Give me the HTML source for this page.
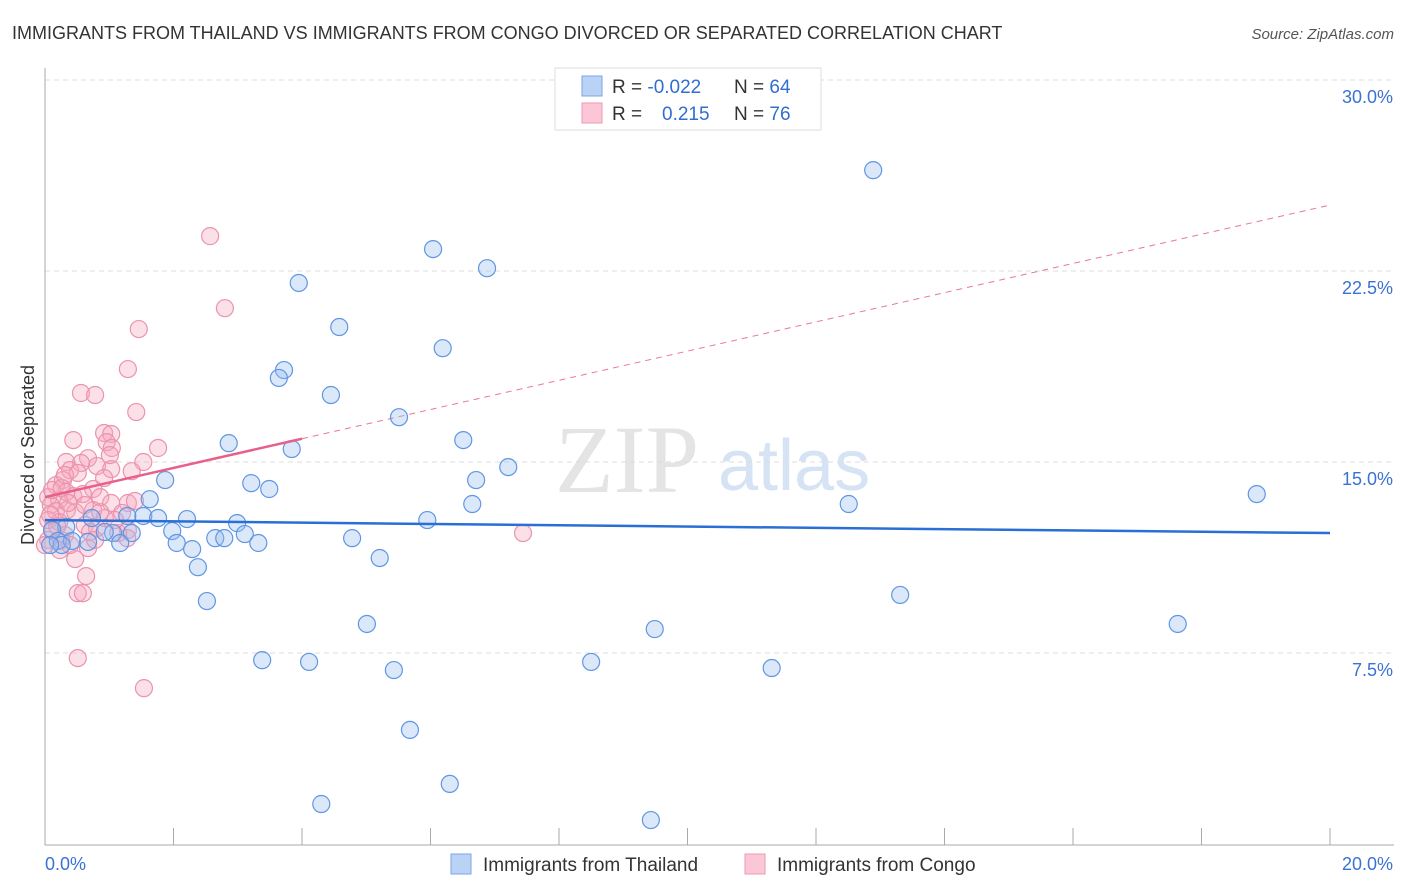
<!DOCTYPE html>
<html><head><meta charset="utf-8"><style>
body{margin:0;background:#fff;font-family:"Liberation Sans",sans-serif;}
svg{display:block}
</style></head><body>
<svg id="chart" width="1406" height="892" xmlns="http://www.w3.org/2000/svg" font-family="Liberation Sans, sans-serif">
<text x="12" y="39" font-size="18" fill="#333">IMMIGRANTS FROM THAILAND VS IMMIGRANTS FROM CONGO DIVORCED OR SEPARATED CORRELATION CHART</text>
<text x="1394" y="39" font-size="15" fill="#555" font-style="italic" text-anchor="end">Source: ZipAtlas.com</text>
<g>
<text x="555" y="492" font-size="96" font-family="Liberation Serif, serif" fill="#e4e4e4">ZIP</text>
<text x="718" y="490" font-size="72" fill="#d6e3f5">atlas</text>
</g>
<g id="grid"></g>
<g id="axes"></g>
<text transform="translate(34,455) rotate(-90)" font-size="18" fill="#333" text-anchor="middle">Divorced or Separated</text>
<g id="lines"></g>
<g id="pts"></g>
<g>
<rect x="555" y="68" width="266" height="62" fill="#fff" stroke="#ddd"/>
<rect x="582" y="76" width="20" height="20" fill="#b9d2f5" stroke="#7aa6e6"/>
<rect x="582" y="103" width="20" height="20" fill="#fbc6d5" stroke="#ee9ab4"/>
<text x="612" y="93" font-size="19" fill="#333">R = <tspan fill="#2f6fd0">-0.022</tspan></text>
<text x="734" y="93" font-size="19" fill="#333">N = <tspan fill="#2f6fd0">64</tspan></text>
<text x="612" y="120" font-size="19" fill="#333">R = </text>
<text x="662" y="120" font-size="19" fill="#2f6fd0">0.215</text>
<text x="734" y="120" font-size="19" fill="#333">N = <tspan fill="#2f6fd0">76</tspan></text>
</g>
<g>
<rect x="451" y="854" width="20" height="20" fill="#b9d2f5" stroke="#7aa6e6"/>
<text x="483" y="871" font-size="19" fill="#333">Immigrants from Thailand</text>
<rect x="745" y="854" width="20" height="20" fill="#fbc6d5" stroke="#ee9ab4"/>
<text x="777" y="871" font-size="19" fill="#333">Immigrants from Congo</text>
</g>
</svg>
<script>
const yTicks=[7.5,15,22.5,30];
const yTickLabels=["7.5%","15.0%","22.5%","30.0%"];
const xTickLabels=["0.0%","20.0%"];
const thaiX=[12.89,6.04,6.88,3.95,4.58,6.19,3.72,3.64,4.45,5.51,6.51,2.86,3.84,7.21,6.71,1.87,3.21,3.49,1.63,18.86,6.65,12.51,1.53,1.76,2.21,1.28,0.73,5.95,2.99,0.33,0.11,1.06,1.35,1.98,3.11,2.65,2.79,4.78,0.20,0.42,1.17,2.05,3.32,2.29,5.21,2.38,2.52,13.31,17.63,5.01,9.49,3.38,4.11,8.50,5.43,11.31,5.68,6.30,4.30,9.43,0.26,0.67,0.93,0.08];
const thaiY=[26.46,23.36,22.61,22.03,20.30,19.47,18.61,18.30,17.63,16.76,15.86,15.74,15.51,14.80,14.29,14.29,14.17,13.94,13.54,13.74,13.35,13.35,12.88,12.80,12.76,12.88,12.80,12.72,12.60,12.45,12.33,12.21,12.21,12.29,12.17,12.01,12.01,12.01,11.90,11.90,11.82,11.82,11.82,11.58,11.23,10.87,9.54,9.78,8.64,8.64,8.44,7.22,7.15,7.15,6.83,6.91,4.48,2.36,1.57,0.94,11.74,11.86,12.25,11.74];
const congoX=[2.57,2.80,1.46,1.29,0.56,0.78,1.42,0.44,0.92,1.03,1.76,0.96,1.04,1.53,0.67,0.33,0.81,0.56,1.35,1.03,0.39,0.51,0.92,0.28,0.75,0.17,0.33,0.44,0.59,0.86,0.05,0.22,1.29,1.40,1.03,0.09,0.34,0.75,0.47,0.17,1.20,0.93,0.05,0.22,0.62,0.81,1.29,0.12,0.31,0.70,1.14,0.05,0.25,0.67,0.47,0.64,0.51,0.59,0.51,1.54,7.44,0.23,0.39,0.08,0.78,1.09,1.28,0.11,0.26,0.36,0.86,0.19,0,1.01,0.31,0.62];
const congoY=[23.87,21.04,20.22,18.65,17.71,17.63,16.96,15.86,16.14,16.10,15.55,15.78,15.55,15.00,15.15,15.00,14.84,14.96,14.64,14.72,14.68,14.57,14.37,14.29,13.94,14.09,13.82,13.66,13.74,13.62,13.62,13.51,13.39,13.47,13.39,13.31,13.11,13.11,13.03,13.07,13.00,12.80,12.72,12.64,12.52,12.41,12.33,12.33,12.13,12.25,12.21,11.94,11.94,11.62,11.19,10.52,9.85,9.85,7.30,6.12,12.21,11.54,11.74,12.92,11.94,12.72,12.01,13.90,13.98,13.39,13.03,12.48,11.74,15.27,14.49,13.31];
const thaiTrend=[12.72,12.21];
const congoTrend=[13.62,25.09];
const congoSolidEnd=4.0;
const NS="http://www.w3.org/2000/svg";
const X0=45,X1=1330,Y0=844,Y30=80;
const xs=v=>X0+(v/20)*(X1-X0);
const ys=v=>Y0-(v/30)*(Y0-Y30);
function mk(tag,attrs,parent){const e=document.createElementNS(NS,tag);for(const k in attrs)e.setAttribute(k,attrs[k]);parent.appendChild(e);return e;}
const grid=document.getElementById('grid'),axes=document.getElementById('axes');
yTicks.forEach((t,i)=>{
 const l=mk('line',{x1:X0,x2:1394,y1:ys(t),y2:ys(t),stroke:'#ddd','stroke-dasharray':'5,4'},grid);
 
 
 const tx=mk('text',{x:1393,y:ys(t)+23,'font-size':18,fill:'#3a72d4','text-anchor':'end'},axes);
 tx.textContent=yTickLabels[i];
 
 
});
mk('line',{x1:X0,x2:X0,y1:68,y2:845,stroke:'#aaa'},axes);
mk('line',{x1:X0,x2:1394,y1:845,y2:845,stroke:'#aaa'},axes);
for(let i=1;i<=10;i++){const x=xs(i*2);const t=mk('line',{x1:x,x2:x,y1:828,y2:845,stroke:'#aaa'},axes);
 
 }
const xl0=mk('text',{x:45,y:870,'font-size':18,fill:'#3a72d4'},axes);xl0.textContent=xTickLabels[0];


const xl1=mk('text',{x:1393,y:870,'font-size':18,fill:'#3a72d4','text-anchor':'end'},axes);xl1.textContent=xTickLabels[1];


const pts=document.getElementById('pts');
congoX.forEach((v,i)=>{const c=mk('circle',{cx:xs(v),cy:ys(congoY[i]),r:8.5,fill:'rgba(246,165,190,0.35)',stroke:'#eb93ae','stroke-width':1.2},pts);
 
 });
thaiX.forEach((v,i)=>{const c=mk('circle',{cx:xs(v),cy:ys(thaiY[i]),r:8.5,fill:'rgba(150,188,240,0.35)',stroke:'#6196e2','stroke-width':1.2},pts);
 
 });
const lines=document.getElementById('lines');
const cAt=x=>congoTrend[0]+(congoTrend[1]-congoTrend[0])*x/20;
const cd=mk('line',{x1:xs(congoSolidEnd),y1:ys(cAt(congoSolidEnd)),x2:xs(20),y2:ys(congoTrend[1]),stroke:'#e8789a','stroke-width':1,'stroke-dasharray':'6,5'},lines);


const cs=mk('line',{x1:xs(0),y1:ys(congoTrend[0]),x2:xs(congoSolidEnd),y2:ys(cAt(congoSolidEnd)),stroke:'#e8608a','stroke-width':2.5},pts);


const tl=mk('line',{x1:xs(0),y1:ys(thaiTrend[0]),x2:xs(20),y2:ys(thaiTrend[1]),stroke:'#2a6fd6','stroke-width':2.5},pts);


</script>
</body></html>
